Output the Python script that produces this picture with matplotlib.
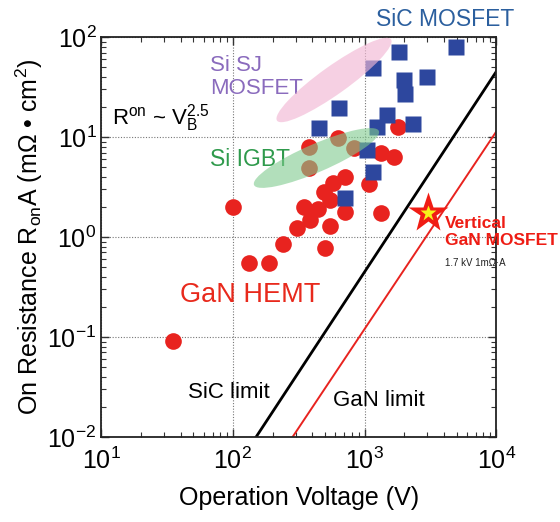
import matplotlib
matplotlib.use('Agg')
import matplotlib.pyplot as plt
from matplotlib.patches import Ellipse
from matplotlib.transforms import ScaledTranslation

plt.rcParams['font.family'] = ['Liberation Sans', 'DejaVu Sans']
plt.rcParams['mathtext.fontset'] = 'custom'
plt.rcParams['mathtext.rm'] = 'Liberation Sans'
plt.rcParams['mathtext.it'] = 'Liberation Sans:italic'
plt.rcParams['mathtext.bf'] = 'Liberation Sans:bold'

# GaN HEMT devices (V, mOhm*cm2)
gan_v = [100, 378, 632, 832, 1328, 1676, 1807, 378, 711, 580, 1082, 492, 547,
         347, 446, 711, 1328, 385, 305, 547, 239, 501, 133, 189, 34.8]
gan_r = [1.98, 7.9, 9.7, 7.8, 6.9, 6.3, 12.7, 4.9, 3.95, 3.44, 3.39, 2.84, 2.34,
         1.98, 1.89, 1.79, 1.72, 1.48, 1.22, 1.29, 0.85, 0.77, 0.55, 0.55, 0.091]

# SiC MOSFET devices
sic_v = [4966, 1820, 1167, 1998, 2970, 2018, 637, 449, 1490, 1239, 2350, 1040, 1167, 711]
sic_r = [80, 71, 48.6, 37, 39.5, 26.9, 19.4, 12.2, 16.6, 12.7, 13.5, 7.4, 4.5, 2.44]

# material limits
sic_limit_v = [150, 10000]
sic_limit_r = [0.01, 45]
gan_limit_v = [284, 10000]
gan_limit_r = [0.01, 11.3]

# vertical GaN MOSFET
vgan_v = [3050]
vgan_r = [1.73]

fig = plt.figure(figsize=(5.6, 5.22), dpi=100)
ax = fig.add_axes([0.181, 0.163, 0.705, 0.766])
ax.set_xscale('log')
ax.set_yscale('log')
ax.set_xlim(10, 1e4)
ax.set_ylim(1e-2, 1e2)

ax.grid(True, which='major', ls=(0, (1, 1.5)), color='#777777', lw=0.8)

ax.plot(sic_limit_v, sic_limit_r, color='black', lw=2, zorder=2)
ax.plot(gan_limit_v, gan_limit_r, color='#e8231f', lw=1.4, zorder=2)

ax.plot(gan_v, gan_r, 'o', ms=12, color='#e8231f', mec='none', zorder=3)
ax.plot(sic_v, sic_r, 's', ms=12, color='#2d479e', mec='none', zorder=3)

ax.plot(vgan_v, vgan_r, '*', ms=30, color='#f01c14', mec='none', zorder=5)
ax.plot(vgan_v, vgan_r, '*', ms=12, color='#f6f21a', mec='none', zorder=6)


def region(cx, cy, w, h, angle, color, alpha):
    tr = fig.dpi_scale_trans + ScaledTranslation(cx, cy, ax.transData)
    e = Ellipse((0, 0), w, h, angle=angle, transform=tr, facecolor=color,
                edgecolor='none', alpha=alpha, zorder=4)
    ax.add_patch(e)


region(586, 37.2, 1.40, 0.28, 35.5, '#f2b8d4', 0.65)
region(431, 6.17, 1.36, 0.28, 23.4, '#7fcb8e', 0.6)

ax.text(4090, 150, 'SiC MOSFET', color='#2b5f9e', fontsize=16.5, ha='center', va='center')
ax.text(66.8, 39.8, 'Si SJ\nMOSFET', color='#8a6bbd', fontsize=16, ha='left', va='center',
        linespacing=1.15)
ax.text(12.0, 15.5, r'R$^{\rm on}$ ~ V$_{\rm B}^{\rm 2.5}$', color='black', fontsize=16,
        ha='left', va='center')
ax.text(66.8, 5.9, 'Si IGBT', color='#2f9a4c', fontsize=16.5, ha='left', va='center')
ax.text(39.5, 0.263, 'GaN HEMT', color='#e8291c', fontsize=19.5, ha='left', va='center')
ax.text(45.5, 0.028, 'SiC limit', color='black', fontsize=16, ha='left', va='center')
ax.text(575, 0.0234, 'GaN limit', color='black', fontsize=16, ha='left', va='center')
ax.text(4090, 1.12, 'Vertical\nGaN MOSFET', color='#ee1c14', fontsize=12.5,
        fontweight='bold', ha='left', va='center', linespacing=1.1)
ax.text(4090, 0.55, '1.7 kV 1m\u03a9\u00b7A', color='#222222', fontsize=7, ha='left',
        va='center')

ax.tick_params(which='both', direction='in', top=True, right=True, labelsize=18,
               color='#333333')
ax.tick_params(which='major', length=6, width=1)
ax.tick_params(which='minor', length=3.5, width=0.8)
ax.tick_params(axis='x', pad=8)
for s in ax.spines.values():
    s.set_linewidth(1.3)
    s.set_color('#222222')

ax.set_xlabel('Operation Voltage (V)', fontsize=18, labelpad=8)
ax.set_ylabel('On Resistance R$_{\\rm on}$A (m\u03a9 \u2022 cm$^{\\rm 2}$)', fontsize=18,
              labelpad=2)

fig.savefig('out.png', dpi=100)
